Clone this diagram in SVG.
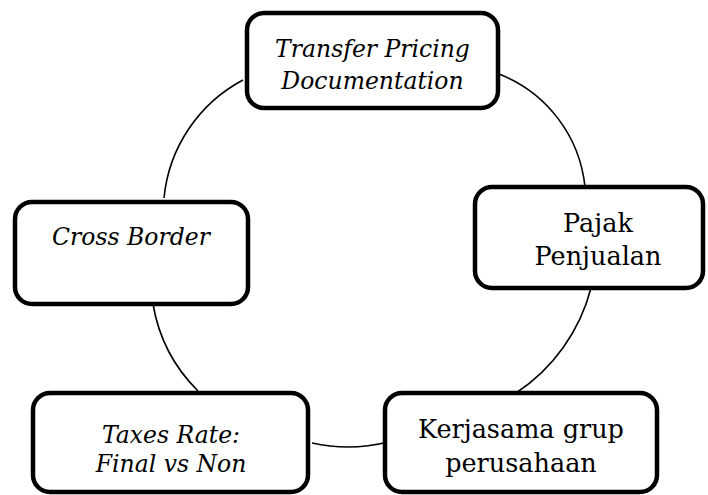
<svg xmlns="http://www.w3.org/2000/svg" width="708" height="495" viewBox="0 0 708 495">
<style>
.box{fill:#fff;stroke:#000;stroke-width:4.5}
.arc{fill:none;stroke:#000;stroke-width:1.6}
text{font-family:"DejaVu Serif","Liberation Serif",serif;font-size:25.5px;fill:#000;text-anchor:middle}
.it{font-style:italic;font-size:23.5px}
</style>
<rect width="708" height="495" fill="#fff"/>
<g id="connectors">
<path class="arc" d="M243,80 A150,150 0 0 0 164,198"/>
<path class="arc" d="M499,74 A136,136 0 0 1 585,187"/>
<path class="arc" d="M591,288 A180,180 0 0 1 516,393"/>
<path class="arc" d="M312,443 A163,163 0 0 0 388,442"/>
<path class="arc" d="M153,304 A160,160 0 0 0 198,391"/>
</g>
<g id="node-transfer">
<rect class="box" x="247" y="13" width="251" height="95" rx="17"/>
<text class="it" x="372.5" y="57">Transfer Pricing</text>
<text class="it" x="372.5" y="89">Documentation</text>
</g>
<g id="node-pajak">
<rect class="box" x="475" y="187" width="228" height="101" rx="17"/>
<text x="598" y="232">Pajak</text>
<text x="598" y="265">Penjualan</text>
</g>
<g id="node-kerjasama">
<rect class="box" x="385" y="393" width="272" height="99" rx="17"/>
<text x="521" y="438">Kerjasama grup</text>
<text x="521" y="472">perusahaan</text>
</g>
<g id="node-taxes">
<rect class="box" x="33" y="393" width="275" height="99" rx="17"/>
<text class="it" x="171" y="443">Taxes Rate:</text>
<text class="it" x="171" y="472">Final vs Non</text>
</g>
<g id="node-cross">
<rect class="box" x="15" y="202" width="233" height="102" rx="17"/>
<text class="it" x="131" y="245">Cross Border</text>
</g>
</svg>
